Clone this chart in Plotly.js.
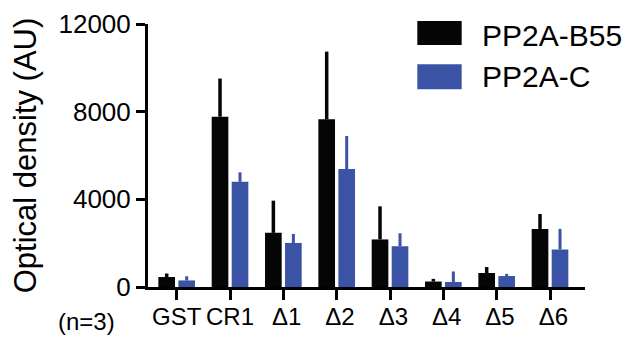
<!DOCTYPE html>
<html>
<head>
<meta charset="utf-8">
<script src="https://cdn.plot.ly/plotly-3.0.1.min.js"></script>
<style>html,body{margin:0;padding:0;background:#fff;}#chart{width:638px;height:337px;}</style>
</head>
<body>
<div id="chart"></div>
<script>
const categories = ['GST', 'CR1', 'Δ1', 'Δ2', 'Δ3', 'Δ4', 'Δ5', 'Δ6'];
const xTickLabels = ['GST', 'CR1', '\u00a0Δ1', '\u00a0Δ2', '\u00a0Δ3', '\u00a0Δ4', '\u00a0Δ5', '\u00a0Δ6'];
const seriesNames = ['PP2A-B55', 'PP2A-C'];
const b55Values = [455, 7770, 2470, 7650, 2170, 250, 640, 2650];
const b55Errors = [160, 1740, 1470, 3090, 1510, 120, 270, 680];
const pcValues = [300, 4800, 2010, 5380, 1860, 230, 500, 1710];
const pcErrors = [190, 430, 410, 1510, 590, 480, 100, 940];
const yTickValues = [0, 4000, 8000, 12000];
const nLabel = '(n=3)';
const yTitle = 'Optical density (AU)';

const colors = ['#050505', '#3A53A4'];
const FONT = 'Liberation Sans, Arial, Helvetica, sans-serif';

const traces = [
  {
    type: 'bar', name: seriesNames[0], x: categories, y: b55Values,
    marker: {color: colors[0]},
    error_y: {type: 'data', array: b55Errors, arrayminus: b55Values.map(() => 0), symmetric: false,
              color: colors[0], thickness: 3.5, width: 0},
    showlegend: false
  },
  {
    type: 'bar', name: seriesNames[1], x: categories, y: pcValues,
    marker: {color: colors[1]},
    error_y: {type: 'data', array: pcErrors, arrayminus: pcValues.map(() => 0), symmetric: false,
              color: colors[1], thickness: 3, width: 0},
    showlegend: false
  }
];

const layout = {
  width: 638, height: 337,
  margin: {l: 148, r: 53, t: 24, b: 50, pad: 0},
  paper_bgcolor: '#ffffff', plot_bgcolor: '#ffffff',
  font: {family: FONT, color: '#000', size: 26},
  barmode: 'group', bargap: 0.25, bargroupgap: 0.167,
  showlegend: false,
  xaxis: {
    type: 'category', categoryorder: 'array', categoryarray: categories,
    tickmode: 'array', tickvals: categories, ticktext: xTickLabels,
    range: [-0.538, 7.656],
    showline: true, linecolor: '#000', linewidth: 3,
    ticks: 'outside', ticklen: 10, tickwidth: 3, tickcolor: '#000',
    ticklabelstandoff: -4,
    tickfont: {family: FONT, size: 24, color: '#000'},
    tickangle: 0, showgrid: false, zeroline: false, fixedrange: true
  },
  yaxis: {
    range: [0, 12000], tickvals: yTickValues, ticktext: yTickValues.map(String),
    showline: true, linecolor: '#000', linewidth: 3,
    ticks: 'outside', ticklen: 9, tickwidth: 3, tickcolor: '#000',
    tickfont: {family: FONT, size: 26, color: '#000'},
    showgrid: false, zeroline: false, fixedrange: true,
    title: {text: yTitle, font: {family: FONT, size: 31, color: '#000'}, standoff: 13}
  },
  shapes: [
    {type: 'rect', xref: 'paper', yref: 'paper', x0: 0.6163, x1: 0.7178, y0: 0.9202, y1: 1.0114,
     fillcolor: colors[0], line: {width: 0}},
    {type: 'rect', xref: 'paper', yref: 'paper', x0: 0.6163, x1: 0.7178, y0: 0.7517, y1: 0.8468,
     fillcolor: colors[1], line: {width: 0}}
  ],
  annotations: [
    {xref: 'paper', yref: 'paper', x: 0.7597, y: 0.9563, xanchor: 'left', yanchor: 'middle',
     text: seriesNames[0], showarrow: false, font: {family: FONT, size: 30, color: '#000'}},
    {xref: 'paper', yref: 'paper', x: 0.7597, y: 0.7985, xanchor: 'left', yanchor: 'middle',
     text: seriesNames[1], showarrow: false, font: {family: FONT, size: 30, color: '#000'}},
    {xref: 'paper', yref: 'paper', x: -0.1403, y: -0.13, xanchor: 'center', yanchor: 'middle',
     text: nLabel, showarrow: false, font: {family: FONT, size: 24, color: '#000'}}
  ]
};

Plotly.newPlot('chart', traces, layout, {displayModeBar: false, staticPlot: true});
</script>
</body>
</html>
